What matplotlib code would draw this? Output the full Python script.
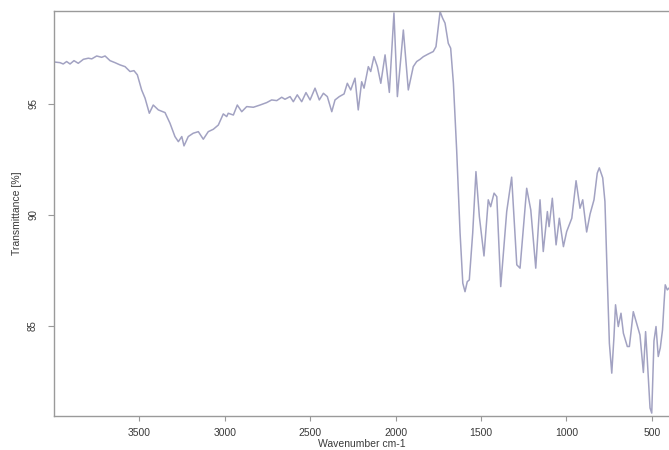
# FTIR transmittance spectrum (scanned R-style plot)
import matplotlib
matplotlib.use("Agg")
import matplotlib.pyplot as plt
import numpy as np

# --- data ---
wavenumber = [
    4000, 3965, 3946, 3926, 3906, 3883, 3858, 3828, 3799, 3779, 3750, 3721, 3701,
    3672, 3643, 3614, 3584, 3555, 3532, 3512, 3487, 3467, 3442, 3419, 3389, 3350,
    3321, 3292, 3272, 3252, 3239, 3214, 3185, 3155, 3126, 3097, 3067, 3038, 3009,
    2989, 2980, 2950, 2927, 2901, 2872, 2833, 2794, 2755, 2726, 2696, 2667, 2648,
    2618, 2599, 2576, 2550, 2525, 2501, 2472, 2447, 2423, 2400, 2374, 2355, 2330,
    2302, 2283, 2263, 2238, 2219, 2199, 2185, 2160, 2146, 2127, 2107, 2087, 2062,
    2037, 2010, 1990, 1955, 1926, 1897, 1877, 1857, 1838, 1809, 1780, 1764, 1750,
    1740, 1725, 1711, 1692, 1678, 1662, 1643, 1623, 1607, 1594, 1581, 1569, 1549,
    1530, 1510, 1483, 1458, 1444, 1424, 1408, 1385, 1350, 1321, 1291, 1272, 1233,
    1209, 1180, 1155, 1136, 1112, 1102, 1083, 1061, 1042, 1018, 999, 969, 944,
    921, 905, 882, 862, 839, 820, 808, 788, 775, 761, 749, 735, 722, 713, 697,
    681, 667, 644, 632, 609, 590, 570, 550, 537, 527, 511, 501, 488, 476, 463,
    451, 438, 429, 422, 410, 400,
]
transmittance = [
    96.89, 96.86, 96.80, 96.91, 96.80, 96.95, 96.83, 97.01, 97.06, 97.03, 97.16, 97.10, 97.16,
    96.95, 96.86, 96.76, 96.68, 96.46, 96.50, 96.31, 95.63, 95.26, 94.58, 94.95, 94.73, 94.61,
    94.13, 93.53, 93.30, 93.53, 93.11, 93.53, 93.68, 93.75, 93.41, 93.75, 93.86, 94.05, 94.55,
    94.43, 94.58, 94.50, 94.95, 94.65, 94.88, 94.85, 94.95, 95.06, 95.18, 95.15, 95.30, 95.21,
    95.33, 95.10, 95.41, 95.10, 95.51, 95.18, 95.71, 95.18, 95.48, 95.33, 94.65, 95.18, 95.33,
    95.45, 95.93, 95.63, 96.16, 94.73, 96.00, 95.71, 96.68, 96.46, 97.13, 96.68, 95.93, 97.21,
    95.52, 99.10, 95.33, 98.33, 95.63, 96.68, 96.91, 97.01, 97.13, 97.25, 97.36, 97.58, 98.48,
    99.16, 98.86, 98.64, 97.73, 97.51, 95.93, 92.93, 89.19, 86.92, 86.54, 86.99, 87.07, 89.19,
    91.95, 89.92, 88.15, 90.68, 90.37, 90.98, 90.82, 86.77, 90.15, 91.70, 87.75, 87.60, 91.20,
    90.22, 87.60, 90.68, 88.35, 90.15, 89.47, 90.75, 88.65, 89.85, 88.57, 89.25, 89.85, 91.54,
    90.30, 90.68, 89.23, 90.04, 90.68, 91.88, 92.12, 91.67, 90.60, 87.07, 84.22, 82.87, 84.52, 85.95, 84.97,
    85.57, 84.67, 84.07, 84.07, 85.64, 85.12, 84.59, 82.90, 84.74, 83.47, 81.30, 81.07, 84.32, 84.97, 83.62,
    84.01, 84.82, 86.02, 86.85, 86.62, 86.70,
]
x_ticks = [3500, 3000, 2500, 2000, 1500, 1000, 500]
y_ticks = [85, 90, 95]

plt.rcParams['font.family'] = ['Liberation Sans', 'DejaVu Sans']

fig = plt.figure(figsize=(6.69, 4.5), dpi=100)
ax = fig.add_axes([0.0807, 0.0756, 0.9193, 0.9006])

ax.plot(wavenumber, transmittance, color='#a2a2c2', linewidth=1.1)

ax.set_xlim(4000, 400)
ax.set_ylim(80.94, 99.20)

ax.set_xticks(x_ticks)
ax.set_yticks(y_ticks)
ax.tick_params(axis='x', labelsize=7.5, length=3.5, pad=5, color='#999999', labelcolor='#3a3a3a')
ax.tick_params(axis='y', labelsize=7, length=4.5, pad=7, color='#999999', labelcolor='#3a3a3a',
               labelrotation=90)
for lbl in ax.get_yticklabels():
    lbl.set_va('center')

ax.set_xlabel('Wavenumber cm-1', fontsize=7.5, color='#3a3a3a', labelpad=1)
ax.set_ylabel('Transmittance [%]', fontsize=7.5, color='#3a3a3a', labelpad=4)

for side in ['left', 'bottom', 'top']:
    ax.spines[side].set_color('#9a9a9a')
    ax.spines[side].set_linewidth(1.0)
ax.spines['right'].set_visible(False)

fig.savefig('out.png', dpi=100)
